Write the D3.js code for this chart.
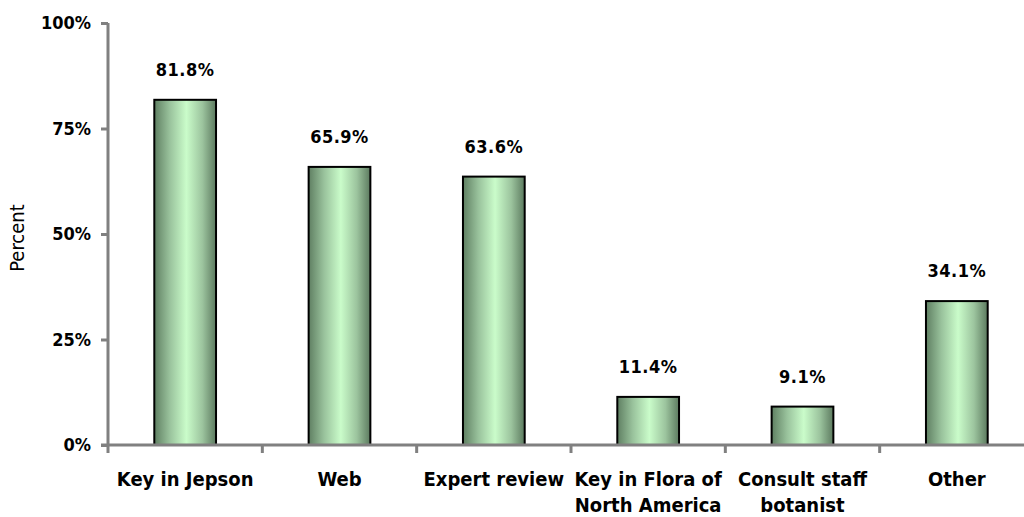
<!DOCTYPE html>
<html>
<head>
	<meta charset="utf-8">
	<title>Percent by method</title>
	<script type="text/javascript" src="https://cdn.jsdelivr.net/npm/d3@7"></script>
	<style>
		body {
			margin: 0;
			background: #fff;
		}
		svg text {
			font-family: "DejaVu Sans Condensed", "DejaVu Sans", sans-serif;
			font-stretch: condensed;
		}
	</style>
</head>

<body>

	<div id="chart"></div>

	<script>

		// data

		const categories = [
			["Key in Jepson"],
			["Web"],
			["Expert review"],
			["Key in Flora of", "North America"],
			["Consult staff", "botanist"],
			["Other"]
		];
		const values = [81.8, 65.9, 63.6, 11.4, 9.1, 34.1];
		const yTicks = [0, 25, 50, 75, 100];

		// layout

		const width = 1024;
		const height = 517;
		const x0 = 108, x1 = 1034;
		const yTop = 23, yBottom = 445;

		const keys = categories.map((c, i) => i);

		const x = d3.scaleBand()
			.domain(keys)
			.range([x0, x1])
			.paddingInner(0.6)
			.paddingOuter(0.3);

		const y = d3.scaleLinear()
			.domain([0, 100])
			.range([yBottom, yTop]);

		const svg = d3.select("#chart")
			.append("svg")
			.attr("width", width)
			.attr("height", height);

		const defs = svg.append("defs");
		const grad = defs.append("linearGradient")
			.attr("id", "barGrad")
			.attr("x1", "0%").attr("x2", "100%")
			.attr("y1", "0%").attr("y2", "0%");
		grad.append("stop").attr("offset", "0%").attr("stop-color", "#5f7f62");
		grad.append("stop").attr("offset", "25%").attr("stop-color", "#99c29c");
		grad.append("stop").attr("offset", "52%").attr("stop-color", "#cafcca");
		grad.append("stop").attr("offset", "78%").attr("stop-color", "#9cc49e");
		grad.append("stop").attr("offset", "100%").attr("stop-color", "#5c7a5f");

		// bars
		svg.append("g")
			.selectAll("rect")
			.data(keys)
			.join("rect")
			.attr("x", i => x(i))
			.attr("y", i => y(values[i]))
			.attr("width", x.bandwidth())
			.attr("height", i => y(0) - y(values[i]))
			.attr("fill", "url(#barGrad)")
			.attr("stroke", "#000")
			.attr("stroke-width", 2);

		// value labels
		svg.append("g")
			.selectAll("text")
			.data(keys)
			.join("text")
			.attr("x", i => x(i) + x.bandwidth() / 2)
			.attr("y", i => y(values[i]) - 24)
			.attr("text-anchor", "middle")
			.attr("font-size", 18)
			.attr("font-weight", "bold")
			.attr("letter-spacing", 0.5)
			.attr("fill", "#000")
			.text(i => values[i].toFixed(1) + "%");

		// y axis
		const yAxis = svg.append("g")
			.attr("transform", `translate(${x0},0)`)
			.call(d3.axisLeft(y).tickValues(yTicks).tickSize(7).tickPadding(10).tickFormat(d => d + "%"));
		yAxis.select(".domain").remove();
		yAxis.selectAll(".tick line").attr("stroke", "#808080").attr("stroke-width", 3);
		yAxis.selectAll(".tick text")
			.attr("font-size", 18)
			.attr("font-weight", "bold")
			.attr("font-family", null)
			.attr("fill", "#000");
		yAxis.append("line")
			.attr("x1", 0).attr("x2", 0)
			.attr("y1", yTop).attr("y2", yBottom + 8)
			.attr("stroke", "#808080")
			.attr("stroke-width", 3);

		// x axis
		const xAxis = svg.append("g");
		xAxis.append("line")
			.attr("x1", x0 - 7).attr("x2", x1)
			.attr("y1", yBottom).attr("y2", yBottom)
			.attr("stroke", "#808080")
			.attr("stroke-width", 3);
		xAxis.selectAll("line.sep")
			.data(keys.slice(1))
			.join("line")
			.attr("class", "sep")
			.attr("x1", i => x(i) - x.step() * x.paddingInner() / 2)
			.attr("x2", i => x(i) - x.step() * x.paddingInner() / 2)
			.attr("y1", yBottom)
			.attr("y2", yBottom + 8)
			.attr("stroke", "#808080")
			.attr("stroke-width", 3);

		const xl = xAxis.selectAll("text")
			.data(keys)
			.join("text")
			.attr("x", i => x(i) + x.bandwidth() / 2)
			.attr("y", 486)
			.attr("text-anchor", "middle")
			.attr("font-size", 20)
			.attr("font-weight", "bold")
			.attr("fill", "#000");
		xl.selectAll("tspan")
			.data(i => categories[i])
			.join("tspan")
			.attr("x", function () { return this.parentNode.getAttribute("x"); })
			.attr("dy", (d, j) => j === 0 ? 0 : 26)
			.text(d => d);

		// y title
		svg.append("text")
			.attr("transform", `translate(24,${(yTop + yBottom) / 2 + 4}) rotate(-90)`)
			.attr("text-anchor", "middle")
			.attr("font-size", 20)
			.attr("fill", "#000")
			.text("Percent");

	</script>

</body>

</html>
